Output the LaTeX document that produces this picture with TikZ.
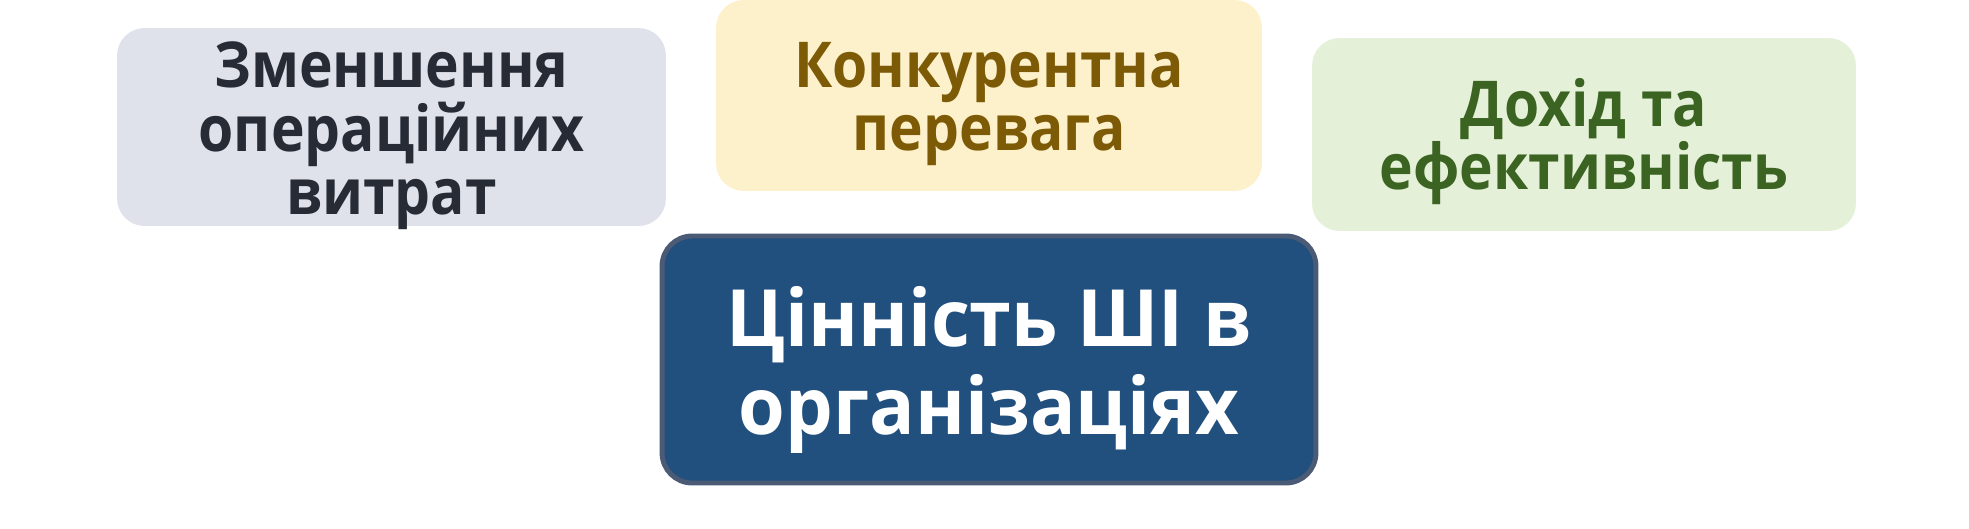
\documentclass[tikz,border=0pt]{standalone}
\usepackage{fontspec}
\setmainfont{Open Sans}
\newfontfamily\boxfont[FakeStretch=0.9]{Open Sans}
\newfontfamily\corefont[FakeStretch=0.955]{Open Sans}
\usepackage{xcolor}
\usetikzlibrary{positioning}

\definecolor{costfill}{HTML}{DFE2EB}
\definecolor{costtext}{HTML}{262B35}
\definecolor{edgefill}{HTML}{FDF1CC}
\definecolor{edgetext}{HTML}{7D5A05}
\definecolor{gainfill}{HTML}{E4F0D8}
\definecolor{gaintext}{HTML}{3B6321}
\definecolor{corefill}{HTML}{22507E}
\definecolor{coreline}{HTML}{4B5B75}

\begin{document}
\begin{tikzpicture}[x=0.02cm, y=-0.02cm,
    side/.style={rounded corners=0.55cm, inner sep=0pt},
    sidetext/.style={align=center, inner sep=0pt,
      font=\boxfont\fontsize{36}{36}\selectfont\bfseries},
    core/.style={rounded corners=0.6cm, inner sep=0pt,
      draw=coreline, line width=2.8pt, fill=corefill},
    coretext/.style={align=center, inner sep=0pt, text=white,
      font=\corefont\fontsize{45}{50}\selectfont\bfseries}]
  \useasboundingbox (0,0) rectangle (1969,528);

  % three outer boxes
  \node[side, fill=costfill, minimum width=10.98cm, minimum height=3.96cm]
    (cost) at (391.5,127) {};
  \node[side, fill=edgefill, minimum width=10.92cm, minimum height=3.82cm]
    (edge) at (989,95.5) {};
  \node[side, fill=gainfill, minimum width=10.88cm, minimum height=3.86cm]
    (gain) at (1584,134.5) {};

  \node[sidetext, text=costtext] (cost-t) at ([yshift=-5pt]cost.center)
    {Зменшення\\операційних\\витрат};
  \node[sidetext, text=edgetext] (edge-t) at ([yshift=-5pt]edge.center)
    {Конкурентна\\перевага};
  \node[sidetext, text=gaintext] (gain-t) at ([yshift=-4pt]gain.center)
    {Дохід та\\ефективність};

  % centre box
  \node[core, minimum width=13.08cm, minimum height=4.94cm]
    (core) at (989,359.5) {};
  \node[coretext] (core-t) at ([yshift=-6pt]core.center)
    {Цінність ШІ в\\організаціях};
\end{tikzpicture}
\end{document}
